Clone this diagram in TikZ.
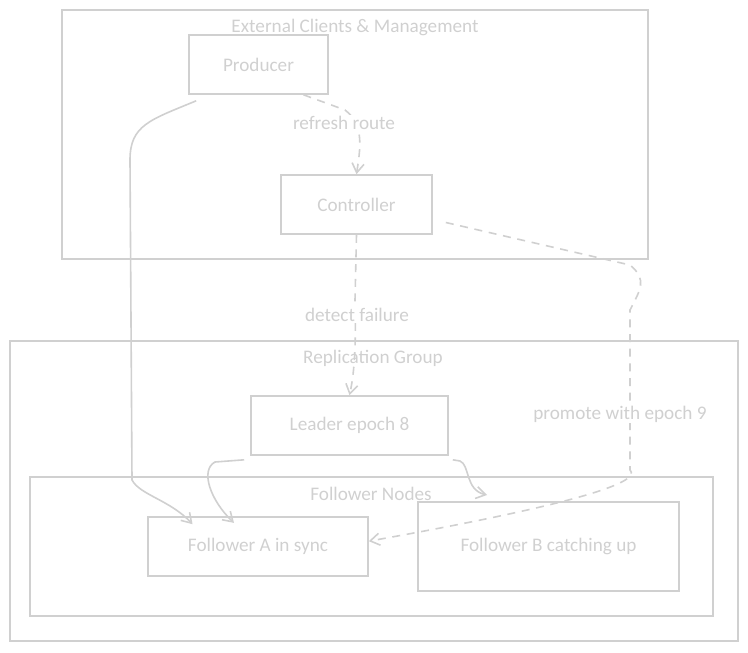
\documentclass[tikz,border=0pt]{standalone}
\usepackage{fontspec}
\setmainfont{Carlito}
\usetikzlibrary{arrows.meta}
\definecolor{sketch}{RGB}{208,208,208}
\tikzset{every picture/.style={line width=1.2pt}}

\begin{document}
\begin{tikzpicture}[x=0.75pt,y=0.75pt,yscale=-1,xscale=1,
  box/.style={draw=sketch,minimum height=44.25pt,inner sep=0pt,font=\Large,text=sketch},
  group/.style={draw=sketch},
  glabel/.style={text=sketch,font=\Large,inner sep=0.75pt},
  flow/.style={draw=sketch,-{Straight Barb[length=7pt,width=9pt]}},
  signal/.style={flow,dash pattern={on 6pt off 5pt}}]
\useasboundingbox (0,0) rectangle (748,652);

%Groups
\draw [group] (62,10) rectangle (648,259);
\node [glabel] (extlbl) at (355,27) {External Clients \& Management};
\draw [group] (10,341) rectangle (738,641);
\node [glabel] (replbl) at (373,358) {Replication Group};
\draw [group] (30,477) rectangle (713,616);
\node [glabel] (follbl) at (371,494) {Follower Nodes};

% Nodes
\node [box,minimum width=104.25pt] (producer) at (258.5,64.5) {Producer};
\node [box,minimum width=113.25pt] (controller) at (356.5,204.5) {Controller};
\node [box,minimum width=147.75pt] (leader) at (349.5,425.5) {Leader epoch 8};
\node [box,minimum width=165pt] (followerA) at (258,546.5) {Follower A in sync};
\node [box,minimum width=195.75pt,minimum height=66.75pt] (followerB) at (548.5,546.5) {Follower B catching up};

% Connectors
\draw [flow] (producer.south west) ++(8,6) .. controls (150,120) and (130,125) .. (130,160) -- (132,480) .. controls (140,495) and (170,500) .. ([xshift=34pt,yshift=6pt]followerA.north west);
\draw [signal] (producer.south) ++(45,0) -- (345,110) .. controls (365,125) and (360,150) .. (controller.north);
\node [glabel,fill=white] (routelbl) at (344,123) {refresh route};
\draw [signal] (controller.south) -- (355,300) .. controls (356,340) and (355,370) .. (leader.north);
\node [glabel,fill=white] (faillbl) at (357,315) {detect failure};
\draw [signal] (controller.east) ++(13,18) -- (630,265) .. controls (648,280) and (640,290) .. (630,310) -- (630,470) .. controls (640,480) and (600,500) .. ([yshift=-4pt]followerA.east);
\node [glabel,fill=white] (promotelbl) at (620,414) {promote with epoch 9};
\draw [flow] (leader.south west) ++(-6,4) -- (215,462) .. controls (200,470) and (210,500) .. ([xshift=-18pt,yshift=5pt]followerA.north);
\draw [flow] (leader.south east) ++(4,4) -- (460,461) .. controls (470,465) and (465,490) .. (487,495);

\end{tikzpicture}
\end{document}
